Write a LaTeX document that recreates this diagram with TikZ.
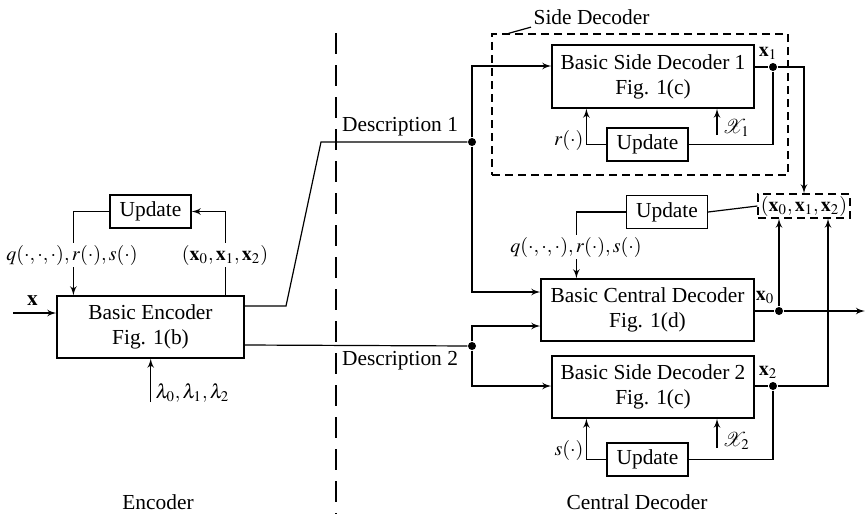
\documentclass[tikz,border=0pt]{standalone}
\usepackage{mathptmx}
\usepackage[no-math]{fontspec}
\setmainfont{Liberation Serif}
\usepackage{tikz}
\usetikzlibrary{calc, shapes, arrows, positioning}

\begin{document}
\begin{tikzpicture}[x=0.5pt, y=-0.5pt, line width=0.6pt,
  font=\fontsize{10.7}{12.6}\selectfont,
  blok/.style={draw, align=center, inner sep=0pt},
  upd/.style={draw, inner sep=0pt, minimum width=40.5pt, minimum height=16.5pt},
  dot/.style={circle, fill, inner sep=0pt, minimum size=4pt},
  kreski/.style={dash pattern=on 4pt off 2.5pt},
  mat/.style={inner sep=1pt, font=\fontsize{10}{12}\selectfont},
  etyk/.style={mat, fill=white}]
\useasboundingbox (0,0) rectangle (865,514);

\node[blok, minimum width=93.5pt, minimum height=31pt](enc) at (150.5,327) {Basic Encoder\\Fig. 1(b)};
\node[upd](encupd) at (150.5,211.5) {Update};
\node[blok, minimum width=101pt, minimum height=31.5pt](sd1) at (653,76.5) {Basic Side Decoder 1\\Fig. 1(c)};
\node[upd](sd1upd) at (647.5,144.5) {Update};
\node[blok, minimum width=106.5pt, minimum height=31pt](cd) at (647.5,310) {Basic Central Decoder\\Fig. 1(d)};
\node[upd](cdupd) at (667,212) {Update};
\node[blok, minimum width=101pt, minimum height=31pt](sd2) at (653,387) {Basic Side Decoder 2\\Fig. 1(c)};
\node[upd](sd2upd) at (647.5,459.5) {Update};
\node[blok, kreski, minimum width=46pt, minimum height=12pt, font=\fontsize{10}{12}\selectfont](tuple) at (804,206) {$(\mathbf{x}_0,\mathbf{x}_1,\mathbf{x}_2)$};
\node[draw, kreski, minimum width=148pt, minimum height=70.5pt](sdgroup) at (640,104.5) {};
\node[anchor=west, inner sep=1pt](sdlab) at (531,17) {Side Decoder};
\draw ($(sdgroup.north west)+(17,0)$) -- (sdlab.south west);

\node[dot](d1) at (472,142) {};
\node[dot](d2) at (472,346) {};
\node[dot](dx1) at (773,67) {};
\node[dot](dx0) at (779,311) {};
\node[dot](dx2) at (773,386) {};

\coordinate (xin) at (13,313);
\coordinate (lam) at (150.7,402);
\coordinate (xout) at (865,311);
\coordinate (chi1) at (717,135);
\coordinate (chi2) at (717,448);

\draw[-latex'](xin) -- (xin -| enc.west) node[pos=0.45, above]{$\mathbf{x}$};
\draw[-latex'](lam) -- (lam |- enc.south);
\node[mat, anchor=west] at (153,393) {$\lambda_0,\lambda_1,\lambda_2$};
\draw[-latex'](encupd.west) -| ($(enc.north west)+(17,0)$);
\draw[-latex']($(enc.north west)+(169,0)$) |- (encupd.east);
\node[etyk] at (72,255) {$q(\cdot,\cdot,\cdot),r(\cdot),s(\cdot)$};
\node[etyk] at (225,255) {$(\mathbf{x}_0,\mathbf{x}_1,\mathbf{x}_2)$};

\draw (enc.east |- 0,306) -- (286,306) -- (321,142) -- (d1);
\draw (enc.east |- 0,345) -- (d2);
\node at (400,127) {Description 1};
\node at (400,361) {Description 2};
\draw[dash pattern=on 10.5pt off 5.5pt] (336,33) -- (336,514);

\draw[-latex'](d1) |- (sd1.west |- 0,66);
\draw[-latex'](d1) |- (cd.west |- 0,292);
\draw[-latex'](d2) |- (cd.west |- 0,326);
\draw[-latex'](d2) |- (sd2.west |- 0,386);

\draw (sd1.east |- dx1) -- (dx1);
\draw[-latex'](dx1) -| (tuple.north);
\draw (dx1) |- (sd1upd.east);
\draw[-latex'](sd1upd.west) -| ($(sd1.south west)+(35,0)$);
\draw[-latex'](chi1) -- (chi1 |- sd1.south);
\node[mat, anchor=east] at (586,140) {$r(\cdot)$};
\node[mat, anchor=west] at (720,128) {$\mathcal{X}_1$};
\node[mat, inner sep=0pt] at (768,53) {$\mathbf{x}_1$};

\draw (tuple.west) -- (cdupd.east);
\draw[-latex'](cdupd.west) -| ($(cd.north west)+(36,0)$);
\node[etyk] at (576,247) {$q(\cdot,\cdot,\cdot),r(\cdot),s(\cdot)$};
\draw (cd.east |- dx0) -- (dx0);
\draw[-latex'](dx0) -- (xout);
\draw[-latex'](dx0) -- (dx0 |- tuple.south);
\node[mat, inner sep=0pt] at (765,297) {$\mathbf{x}_0$};

\draw (sd2.east |- dx2) -- (dx2);
\draw[-latex'](dx2) -| ($(tuple.south)+(24,0)$);
\draw (dx2) |- (sd2upd.east);
\draw[-latex'](sd2upd.west) -| ($(sd2.south west)+(35,0)$);
\draw[-latex'](chi2) -- (chi2 |- sd2.south);
\node[mat, anchor=east] at (586,450) {$s(\cdot)$};
\node[mat, anchor=west] at (720,441) {$\mathcal{X}_2$};
\node[mat, inner sep=0pt] at (768,372) {$\mathbf{x}_2$};

\node at (158,502) {Encoder};
\node at (637,502) {Central Decoder};
\end{tikzpicture}
\end{document}
